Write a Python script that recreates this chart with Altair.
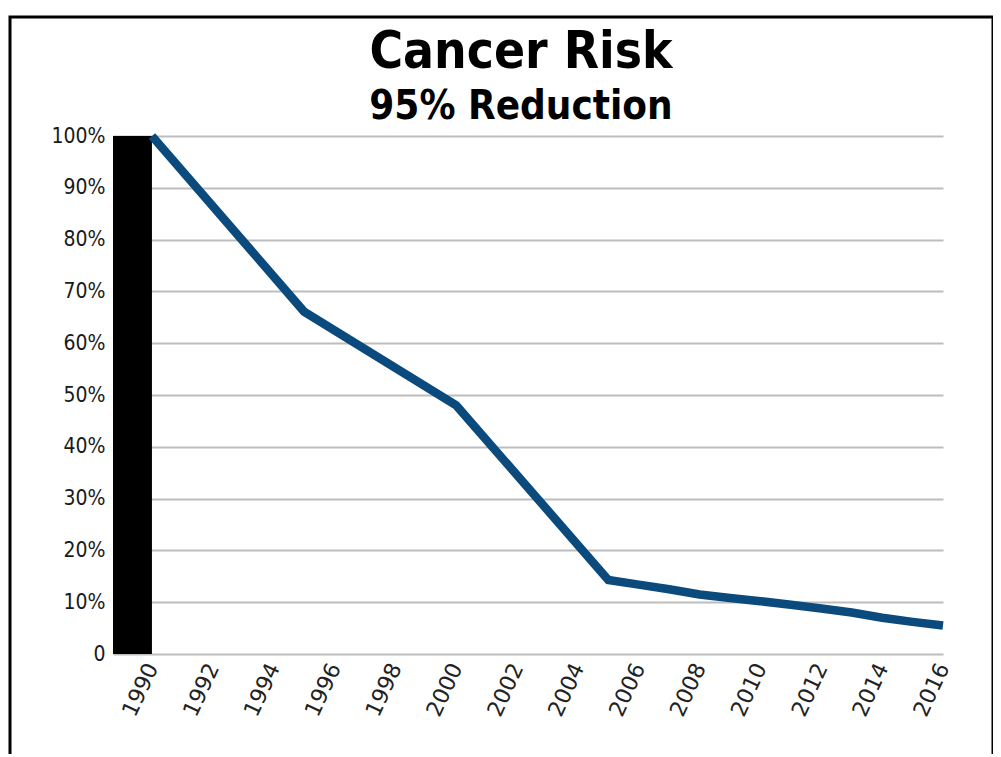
import altair as alt
import pandas as pd

# ---- data ----
years = [1990, 1995, 2000, 2005, 2006, 2007, 2008, 2009, 2010, 2011, 2012, 2013, 2014, 2015, 2016]
risk = [100, 66.1, 48.0, 14.3, 13.4, 12.5, 11.5, 10.8, 10.2, 9.5, 8.8, 8.0, 7.0, 6.2, 5.5]

bar_start = [1988.72]
bar_end = [1990]
bar_value = [100]

x_ticks = list(range(1990, 2017, 2))
y_ticks = list(range(0, 101, 10))

line_df = pd.DataFrame({"year": years, "risk": risk})
bar_df = pd.DataFrame({"x0": bar_start, "x1": bar_end, "v": bar_value})
frame_df = pd.DataFrame({"k": [0]})

x_scale = alt.Scale(domain=[bar_start[0], 2016], nice=False, zero=False)
y_scale = alt.Scale(domain=[0, 100], nice=False)

base_x_axis = alt.Axis(
    values=x_ticks, format="d", labelAngle=295, labelFontSize=22,
    labelFont="DejaVu Sans", labelColor="#222222", labelPadding=10,
    ticks=False, domain=False, grid=False, title=None,
)
base_y_axis = alt.Axis(
    values=y_ticks, labelExpr="datum.value == 0 ? '0' : datum.value + '%'",
    labelFontSize=21, labelFont="DejaVu Sans Condensed", labelColor="#1a1a1a",
    labelPadding=8, ticks=False, domain=False, grid=True,
    gridColor="#bdbdbd", gridWidth=2, title=None,
)

bar = alt.Chart(bar_df).mark_rect(color="black").encode(
    x=alt.X("x0:Q", scale=x_scale, axis=base_x_axis),
    x2="x1:Q",
    y=alt.Y("v:Q", scale=y_scale, axis=base_y_axis),
    y2=alt.datum(0),
)

line = alt.Chart(line_df).mark_line(color="#0b4a7c", strokeWidth=8.5, strokeJoin="miter").encode(
    x=alt.X("year:Q", scale=x_scale),
    y=alt.Y("risk:Q", scale=y_scale),
)

frame = alt.Chart(frame_df).mark_rect(filled=False, stroke="black", strokeWidth=3).encode(
    x=alt.value(-103), x2=alt.value(880), y=alt.value(-119), y2=alt.value(650)
)

chart = alt.layer(bar, line, frame).properties(
    width=830,
    height=518,
    background="white",
    autosize=alt.AutoSizeParams(type="none"),
    padding={"left": 105, "top": 128, "right": 50, "bottom": 100},
    title=alt.TitleParams(
        "Cancer Risk",
        subtitle="95% Reduction",
        font="DejaVu Sans Condensed",
        fontSize=51,
        fontWeight="bold",
        color="black",
        subtitleFont="DejaVu Sans Condensed",
        subtitleFontSize=40,
        subtitleFontWeight="bold",
        subtitleColor="black",
        subtitlePadding=8,
        anchor="middle",
        dx=-7,
        dy=118,
        offset=6,
    ),
).configure_view(stroke=None)

chart.save("out.html", embed_options={"renderer": "svg", "actions": False})
